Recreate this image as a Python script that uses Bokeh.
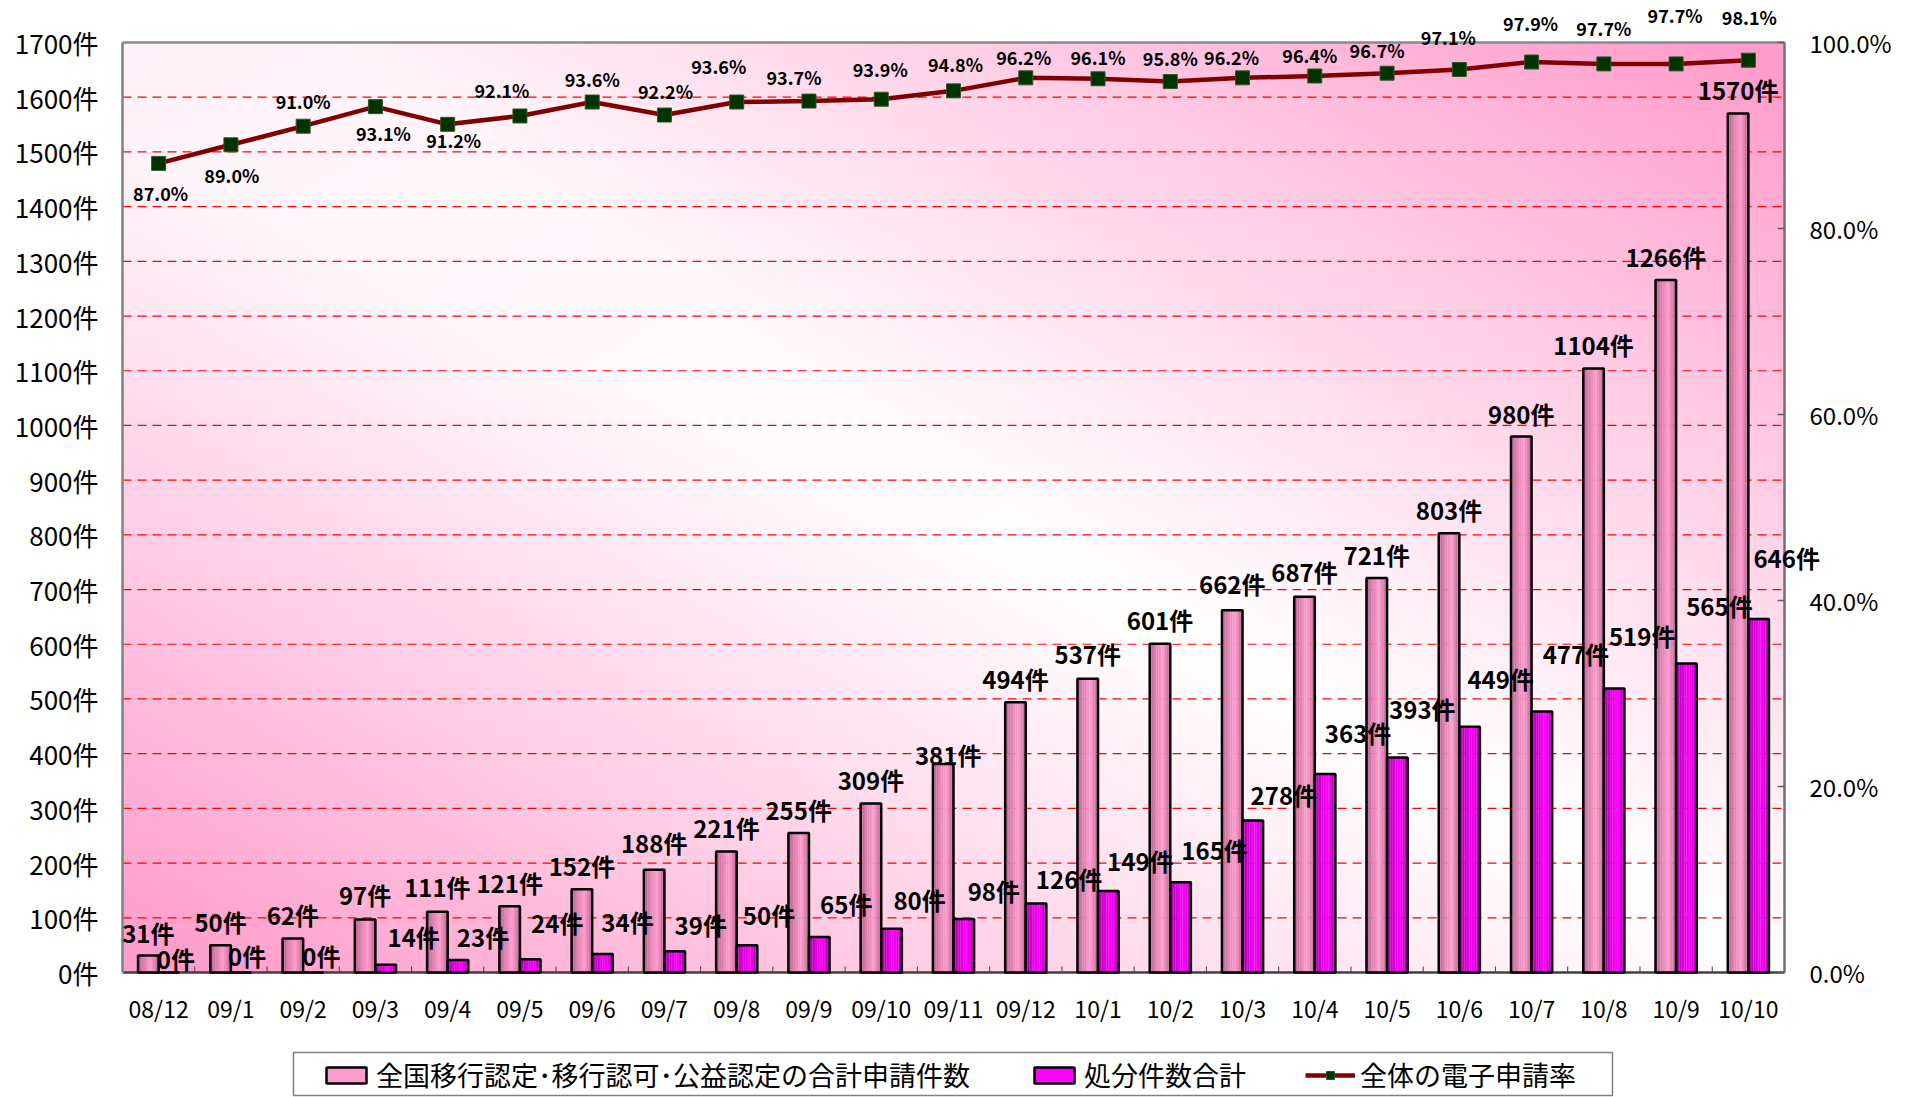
import numpy as np
from bokeh.plotting import figure
from bokeh.models import (Range1d, FixedTicker, PrintfTickFormatter,
                          ColumnDataSource, Legend, LegendItem)
from bokeh.core.properties import value
from bokeh.embed import file_html
from bokeh.resources import INLINE

# ---------------- data ----------------
categories = ["08/12", "09/1", "09/2", "09/3", "09/4", "09/5", "09/6", "09/7", "09/8",
              "09/9", "09/10", "09/11", "09/12", "10/1", "10/2", "10/3", "10/4", "10/5",
              "10/6", "10/7", "10/8", "10/9", "10/10"]
applications = [31, 50, 62, 97, 111, 121, 152, 188, 221, 255, 309, 381, 494, 537, 601,
                662, 687, 721, 803, 980, 1104, 1266, 1570]
dispositions = [0, 0, 0, 14, 23, 24, 34, 39, 50, 65, 80, 98, 126, 149, 165, 278, 363,
                393, 449, 477, 519, 565, 646]
e_rate = [87.0, 89.0, 91.0, 93.1, 91.2, 92.1, 93.6, 92.2, 93.6, 93.7, 93.9, 94.8, 96.2,
          96.1, 95.8, 96.2, 96.4, 96.7, 97.1, 97.9, 97.7, 97.7, 98.1]
left_ticks = list(range(0, 1800, 100))
right_ticks = [0, 20, 40, 60, 80, 100]
Y_MAX = 1700
PCT_MAX = 100

label_apps = "全国移行認定･移行認可･公益認定の合計申請件数"
label_disp = "処分件数合計"
label_rate = "全体の電子申請率"

# label placement (pixels, styling only; dy measured upward)
app_dx = [0, 0, 0, 0, 0, 0, 0, 0, 0, 0, 0, 5, 0, 0, 0, 0, 0, 0, 0, 0, 0, 0, 0]
app_dy = [23, 24, 24, 25, 25, 24, 24, 27, 24, 24, 24, 10, 24, 25, 24, 27, 25, 24, 24, 23, 24, 23, 24]
mag_dx = [7, 6, 8, 28, 25, 27, 25, 26, 22, 27, 28, 30, 33, 32, 34, 31, 33, 25, 31, 34, 28, 33, 28]
mag_dy = [14, 17, 17, 28, 23, 37, 32, 27, 31, 33, 29, 28, 25, 30, 33, 26, 41, 49, 48, 58, 53, 58, 62]
pct_dx = [2, 1, 0, 8, 6, -18, 0, 1, -18, -15, -1, 2, -2, 0, 0, -11, -5, -10, -11, -1, 0, -1, 1]
pct_dy = [-30, -30, 25, -26, -16, 26, 23, 24, 36, 24, 30, 27, 21, 22, 24, 21, 21, 23, 32, 39, 36, 49, 43]

FONT = "Noto Sans CJK JP"
n = len(categories)
xs = np.arange(n)

# ---------------- layout (pixels) ----------------
FIG_W, FIG_H = 1905, 1097
PLOT_L, PLOT_R, PLOT_T, PLOT_B = 122, 1784, 42, 972
LEG_L, LEG_R, LEG_T, LEG_B = 293, 1612, 1052, 1095
px_per_x = (PLOT_R - PLOT_L) / n
px_per_y = (PLOT_B - PLOT_T) / Y_MAX
px_per_pct = (PLOT_B - PLOT_T) / PCT_MAX
XL, XR = -0.5, n - 0.5
x_end = XL + (FIG_W - PLOT_L) / px_per_x
y_start = -(FIG_H - PLOT_B) / px_per_y
y_end = Y_MAX + PLOT_T / px_per_y
pct_start = -(FIG_H - PLOT_B) / px_per_pct
pct_end = PCT_MAX + PLOT_T / px_per_pct


def px_to_x(px):
    return XL + (px - PLOT_L) / px_per_x


def py_to_y(py):
    return (PLOT_B - py) / px_per_y


p = figure(width=FIG_W, height=FIG_H, x_range=Range1d(XL, x_end),
           y_range=Range1d(y_start, y_end), x_axis_location=None,
           output_backend="svg", toolbar_location=None,
           min_border_left=PLOT_L, min_border_right=0, min_border_top=0, min_border_bottom=0)
p.extra_y_ranges = {"pct": Range1d(pct_start, pct_end)}
p.background_fill_color = "white"
p.border_fill_color = "white"
p.outline_line_color = None
p.xgrid.visible = False
p.ygrid.visible = False


def add_text(x, y, texts, size, bold=False, dx=0, dy_up=0, align="center", y_range_name="default"):
    m = len(texts)
    dxs = dx if isinstance(dx, (list, tuple)) else [dx] * m
    dys = dy_up if isinstance(dy_up, (list, tuple)) else [dy_up] * m
    src = ColumnDataSource(dict(x=list(x), y=list(y), t=list(texts), dx=list(dxs),
                                dy=[-v for v in dys]))
    p.text(x="x", y="y", text="t", source=src, x_offset="dx", y_offset="dy",
           text_align=align, text_baseline="middle", text_font=value(FONT),
           text_font_size=size, text_font_style="bold" if bold else "normal",
           text_color="black", y_range_name=y_range_name, level="overlay")


# ---------------- background gradient ----------------
H, W = 240, 420
yy, xx = np.mgrid[0:H, 0:W]
sx = xx / (W - 1)
sy = 1 - yy / (H - 1)
t = (sx - sy + 1) / 2
d = np.abs(t - 0.5) * 2
a = np.clip(d * 1.05, 0, 1) ** 1.1 * 0.92
a = np.maximum(a, 0.12 * (1 - sx) * (1 - sy))
img = np.empty((H, W), dtype=np.uint32)
view = img.view(dtype=np.uint8).reshape((H, W, 4))
view[..., 0] = 255
view[..., 1] = (255 - a * 105).astype(np.uint8)
view[..., 2] = (255 - a * 55).astype(np.uint8)
view[..., 3] = 255
p.image_rgba(image=[img], x=XL, y=0, dw=n, dh=Y_MAX, level="image")

# ---------------- grid & frame lines ----------------
grid_vals = left_ticks[1:-1]
p.segment(x0=[XL] * len(grid_vals), y0=grid_vals, x1=[XR] * len(grid_vals), y1=grid_vals,
          line_color="#ff0000", line_dash="9 6", line_width=1.2, level="underlay")
p.segment(x0=[XL], y0=[Y_MAX], x1=[XR], y1=[Y_MAX], line_color="#8a8a8a", line_width=2.5)

# left axis
yax = p.yaxis[0]
yax.bounds = (0, Y_MAX)
yax.ticker = FixedTicker(ticks=left_ticks)
yax.formatter = PrintfTickFormatter(format="%d件")
yax.major_tick_line_color = None
yax.minor_tick_line_color = None
yax.major_label_standoff = 18
yax.major_label_text_font = FONT
yax.major_label_text_font_size = "26px"
yax.major_label_text_color = "black"
yax.axis_line_color = "#808080"
yax.axis_line_width = 2.5

# bottom axis (category axis along the plot-area bottom)
p.segment(x0=[XL], y0=[0], x1=[XR], y1=[0], line_color="#404040", line_width=2.5)
bounds_x = [i - 0.5 for i in range(1, n)]
tick_h = 6 / px_per_y
p.segment(x0=bounds_x, y0=[0] * len(bounds_x), x1=bounds_x, y1=[tick_h] * len(bounds_x),
          line_color="#404040", line_width=1)
add_text(xs, [0] * n, categories, "23px", dy_up=-35)

# right axis (percent)
p.segment(x0=[XR], y0=[0], x1=[XR], y1=[PCT_MAX], y_range_name="pct",
          line_color="#707070", line_width=2.5)
tick_len = 7 / px_per_x
p.segment(x0=[XR] * len(right_ticks), y0=right_ticks,
          x1=[XR - tick_len] * len(right_ticks), y1=right_ticks,
          y_range_name="pct", line_color="#606060", line_width=1.5)
add_text([XR] * len(right_ticks), right_ticks, [f"{v:.1f}%" for v in right_ticks], "24px",
         dx=25, align="left", y_range_name="pct")

# ---------------- bars (gradient strips) ----------------
BAR_W = 0.285
OFF = 0.1425
NS = 12


def strip_colors(dark, light, peak=0.62):
    cols = []
    for k in range(NS):
        s = (k + 0.5) / NS
        span = peak if s < peak else 1 - peak
        w = max(0.0, 1 - abs(s - peak) / span) ** 0.8
        c = [int(dk + (lt - dk) * w) for dk, lt in zip(dark, light)]
        cols.append("#%02x%02x%02x" % tuple(c))
    return cols


def draw_bars(values, center_off, dark, light):
    cols = strip_colors(dark, light)
    sw = BAR_W / NS
    mid = None
    for k, col in enumerate(cols):
        r = p.vbar(x=xs + center_off - BAR_W / 2 + (k + 0.5) * sw, top=values, bottom=0,
                   width=sw * 1.1, fill_color=col, line_color=None)
        if k == int(NS * 0.62):
            mid = r
    outline = p.vbar(x=xs + center_off, top=values, bottom=0, width=BAR_W,
                     fill_alpha=0, line_color="black", line_width=2.5)
    return mid, outline


pink_mid, pink_out = draw_bars(applications, -OFF, (178, 92, 138), (255, 158, 206))
mag_mid, mag_out = draw_bars(dispositions, OFF, (160, 0, 160), (255, 0, 255))

# ---------------- line ----------------
line_r = p.line(xs, e_rate, y_range_name="pct", line_color="#800000", line_width=4.5)
mark_r = p.scatter(xs, e_rate, y_range_name="pct", marker="square", size=14,
                   fill_color="#003300", line_color="#2a5a2a", line_width=1)

# ---------------- data labels ----------------
add_text(xs - OFF, applications, [f"{v}件" for v in applications], "24px", bold=True,
         dx=app_dx, dy_up=app_dy)
add_text(xs + OFF, dispositions, [f"{v}件" for v in dispositions], "24px", bold=True,
         dx=mag_dx, dy_up=mag_dy)
add_text(xs, e_rate, [f"{v:.1f}%" for v in e_rate], "18px", bold=True,
         dx=pct_dx, dy_up=pct_dy, y_range_name="pct")

# ---------------- legend ----------------
p.quad(left=[px_to_x(LEG_L)], right=[px_to_x(LEG_R)], top=[py_to_y(LEG_T)],
       bottom=[py_to_y(LEG_B)], fill_color="white", line_color="#808080", line_width=1.5)
legend = Legend(items=[LegendItem(label=label_apps, renderers=[pink_mid, pink_out]),
                       LegendItem(label=label_disp, renderers=[mag_mid, mag_out]),
                       LegendItem(label=label_rate, renderers=[line_r, mark_r])],
                location=(LEG_L + 28 - PLOT_L, 3), orientation="horizontal",
                label_text_font=FONT, label_text_font_size="27px", label_text_color="black",
                glyph_width=50, glyph_height=20, spacing=59, padding=6, label_standoff=5,
                margin=0, border_line_color=None, background_fill_alpha=0)
p.add_layout(legend)

open("out.html", "w").write(file_html(p, INLINE))
